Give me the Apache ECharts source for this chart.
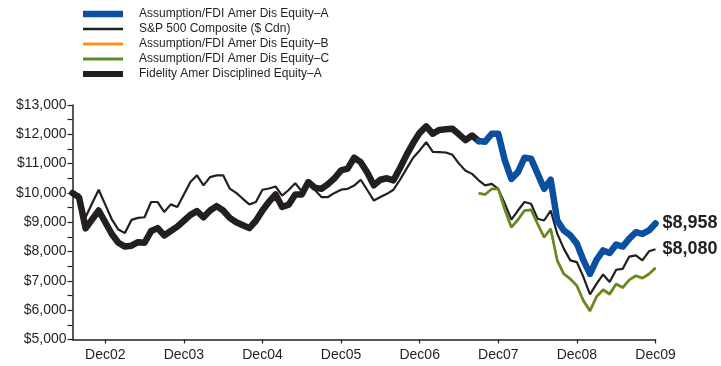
<!DOCTYPE html>
<html><head><meta charset="utf-8">
<script src="https://cdn.jsdelivr.net/npm/echarts@6/dist/echarts.min.js"></script>
<style>html,body{margin:0;padding:0;background:#fff}#c{width:721px;height:366px}</style>
</head><body><div id="c"></div>
<script>
var categories = [
'Jul02','Aug02','Sep02','Oct02','Nov02','Dec02',
'Jan03','Feb03','Mar03','Apr03','May03','Jun03','Jul03','Aug03','Sep03','Oct03','Nov03','Dec03',
'Jan04','Feb04','Mar04','Apr04','May04','Jun04','Jul04','Aug04','Sep04','Oct04','Nov04','Dec04',
'Jan05','Feb05','Mar05','Apr05','May05','Jun05','Jul05','Aug05','Sep05','Oct05','Nov05','Dec05',
'Jan06','Feb06','Mar06','Apr06','May06','Jun06','Jul06','Aug06','Sep06','Oct06','Nov06','Dec06',
'Jan07','Feb07','Mar07','Apr07','May07','Jun07','Jul07','Aug07','Sep07','Oct07','Nov07','Dec07',
'Jan08','Feb08','Mar08','Apr08','May08','Jun08','Jul08','Aug08','Sep08','Oct08','Nov08','Dec08',
'Jan09','Feb09','Mar09','Apr09','May09','Jun09','Jul09','Aug09','Sep09','Oct09','Nov09','Dec09'];

var fidelityA = [
10000,9850,8790,9100,9400,9000,
8600,8300,8170,8200,8320,8300,8700,8800,8550,8700,8850,9050,
9250,9380,9170,9400,9550,9400,9150,9000,8900,8800,9050,9400,
9700,9950,9520,9600,9950,9950,10370,10180,10140,10300,10500,10770,
10830,11200,11050,10700,10260,10450,10500,10430,10850,11300,11700,12050,
12270,12020,12150,12170,12190,12000,11800,11960,11770];

var sp500 = [
10000,9950,9170,9650,10110,9600,
9100,8750,8630,9080,9150,9170,9690,9690,9350,9610,9520,9950,
10370,10600,10260,10540,10600,10600,10150,10000,9800,9610,9690,10110,
10150,10220,9910,10100,10330,10060,10310,10100,9860,9860,10000,10110,
10140,10250,10450,10100,9740,9860,9970,10110,10450,10830,11200,11450,
11730,11400,11390,11380,11300,11000,10760,10650,10430,10260,10310,10140,
9630,9090,9400,9690,9630,9120,9060,9400,8610,8100,7700,7640,
7130,6540,6900,7220,6960,7380,7410,7830,7870,7700,8010,8080];

// values from Sep07 (index 62) onward
var startIndex = 62;
var assumptionA = [11770,11750,12020,12020,11110,10480,10710,11200,11170,10660,10140,10450,9060,8720,8550,8270,7700,7240,7720,8040,7950,8240,8170,8440,8660,8600,8720,8958];
var assumptionB = [9990,9950,10130,10130,9420,8820,9080,9390,9420,8940,8480,8770,7690,7230,7050,6820,6300,5960,6450,6680,6530,6880,6760,7020,7160,7080,7220,7430];
var assumptionC = [9990,9950,10140,10140,9430,8830,9090,9400,9430,8950,8490,8780,7700,7240,7070,6840,6330,5990,6470,6700,6560,6900,6780,7040,7180,7100,7240,7450];

var yTicks = [5000,6000,7000,8000,9000,10000,11000,12000,13000];

function pad(arr){ var out=[]; for(var i=0;i<startIndex;i++) out.push(null); return out.concat(arr); }
function money(v){ return '$' + Number(v).toLocaleString('en-US'); }
function isDec(i){ return categories[i].indexOf('Dec')===0; }

var FONT = '"Liberation Sans", Arial, sans-serif';
var INK = '#231f20';
var BLUE = '#0b4fa0', GREEN = '#5b8c2a', ORANGE = '#f7941d';

var N_A = 'Assumption/FDI Amer Dis Equity\u2013A';
var N_SP = 'S&P 500 Composite ($ Cdn)';
var N_B = 'Assumption/FDI Amer Dis Equity\u2013B';
var N_C = 'Assumption/FDI Amer Dis Equity\u2013C';
var N_F = 'Fidelity Amer Disciplined Equity\u2013A';

var chart = echarts.init(document.getElementById('c'), null, {renderer:'canvas'});
chart.setOption({
  animation:false,
  textStyle:{fontFamily:FONT},
  grid:{left:72.5, right:65.5, top:105, bottom:26.5, containLabel:false},
  legend:{
    orient:'vertical', left:83, top:8, padding:0,
    itemWidth:40, itemHeight:11, itemGap:3, symbolKeepAspect:true,
    textStyle:{fontSize:12, color:INK, fontFamily:FONT, padding:[0,0,0,11]},
    data:[
      {name:N_A, icon:'path://M0,0H40V6.5H0Z', itemStyle:{color:BLUE}},
      {name:N_SP, icon:'path://M0,0H40V2.4H0Z', itemStyle:{color:INK}},
      {name:N_B, icon:'path://M0,0H40V3H0Z', itemStyle:{color:ORANGE}},
      {name:N_C, icon:'path://M0,0H40V3H0Z', itemStyle:{color:GREEN}},
      {name:N_F, icon:'path://M0,0H40V6H0Z', itemStyle:{color:INK}}
    ]
  },
  xAxis:{
    type:'category', data:categories, boundaryGap:false,
    axisLine:{lineStyle:{color:INK, width:1.5}},
    axisTick:{show:true, interval:function(i){return isDec(i);}, length:4, inside:false, lineStyle:{color:INK,width:1.2}},
    axisLabel:{interval:function(i){return isDec(i);}, color:INK, fontSize:14, margin:9, fontFamily:FONT},
    splitLine:{show:false}
  },
  yAxis:{
    type:'value', min:yTicks[0], max:yTicks[yTicks.length-1], interval:1000,
    axisLine:{show:true, lineStyle:{color:INK, width:1.5}},
    axisTick:{show:true, length:5, lineStyle:{color:INK,width:1.2}},
    minorTick:{show:true, splitNumber:2, length:5, lineStyle:{color:INK,width:1.2}},
    axisLabel:{color:INK, fontSize:14, margin:6, fontFamily:FONT, formatter:function(v){return money(v);}},
    splitLine:{show:false}
  },
  series:[
    {name:N_SP, type:'line', data:sp500, symbol:'none', z:3,
     lineStyle:{color:INK, width:2.2}, itemStyle:{color:INK},
     endLabel:{show:true, formatter:function(p){return money(p.value);}, fontSize:18, fontWeight:'bold', color:INK, distance:7, fontFamily:FONT}},
    {name:N_B, type:'line', data:pad(assumptionB), symbol:'none', z:4,
     lineStyle:{color:ORANGE, width:2.5}, itemStyle:{color:ORANGE}},
    {name:N_C, type:'line', data:pad(assumptionC), symbol:'none', z:5,
     lineStyle:{color:GREEN, width:2.5}, itemStyle:{color:GREEN}},
    {name:N_F, type:'line', data:fidelityA, symbol:'none', z:6,
     lineStyle:{color:INK, width:6.5, join:'round', cap:'round'}, itemStyle:{color:INK}},
    {name:N_A, type:'line', data:pad(assumptionA), symbol:'none', z:7,
     lineStyle:{color:BLUE, width:6.5, join:'round', cap:'round'}, itemStyle:{color:BLUE},
     endLabel:{show:true, formatter:function(p){return money(p.value);}, fontSize:18, fontWeight:'bold', color:INK, distance:7, fontFamily:FONT}}
  ]
});
</script></body></html>
